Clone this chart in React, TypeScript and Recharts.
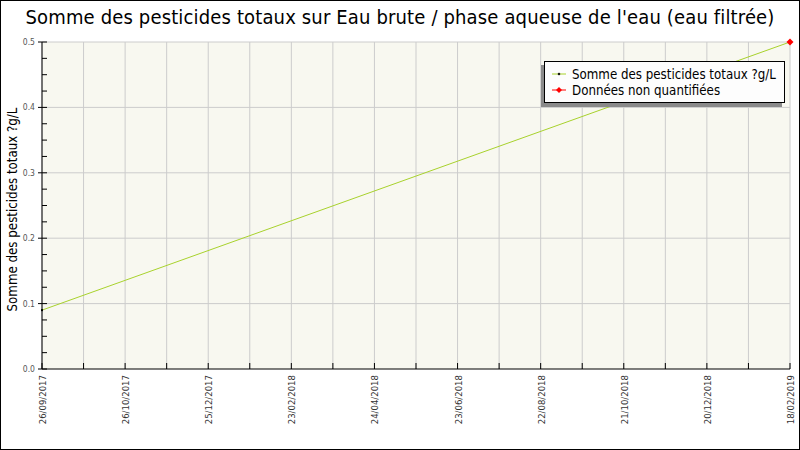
import React from "react";
import { LineChart, Line, XAxis, YAxis, CartesianGrid, Legend } from "recharts";

if (typeof document !== "undefined") document.body.style.margin = "0";

const TITLE = "Somme des pesticides totaux sur Eau brute / phase aqueuse de l'eau (eau filtrée)";
const SERIES_NAME = "Somme des pesticides totaux ?g/L";
const NQ_NAME = "Données non quantifiées";
const Y_LABEL = "Somme des pesticides totaux ?g/L";

// tick labels, one every second grid step
const dateLabels = [
  "26/09/2017",
  "26/10/2017",
  "25/12/2017",
  "23/02/2018",
  "24/04/2018",
  "23/06/2018",
  "22/08/2018",
  "21/10/2018",
  "20/12/2018",
  "18/02/2019",
];
const sampleDates = ["26/09/2017", "18/02/2019"];
const sampleValues = [0.09, 0.5];
const nonQuantified = [null, 0.5];

const xTicks = [0, 1, 2, 3, 4, 5, 6, 7, 8, 9, 10, 11, 12, 13, 14, 15, 16, 17, 18];
const yTicks = [
  0, 0.025, 0.05, 0.075, 0.1, 0.125, 0.15, 0.175, 0.2, 0.225, 0.25,
  0.275, 0.3, 0.325, 0.35, 0.375, 0.4, 0.425, 0.45, 0.475, 0.5,
];
const yMajor = [0.1, 0.2, 0.3, 0.4, 0.5];

const data = sampleDates.map((d, i) => ({
  x: dateLabels.indexOf(d) * 2,
  value: sampleValues[i],
  nq: nonQuantified[i],
}));

const FONT = "'DejaVu Sans Condensed', 'DejaVu Sans', sans-serif";
const GREEN = "#a8d22c";

const XTick = (props: any) => {
  const { x, y, payload } = props;
  const i = payload.value as number;
  const label = i % 2 === 0 ? dateLabels[i / 2] : null;
  return (
    <g>
      <line x1={x} x2={x} y1={y} y2={y - 6} stroke="#000" />
      {label && (
        <text
          transform={`translate(${x + 4},${y + 6}) rotate(-90)`}
          textAnchor="end"
          fontSize={9.5}
          fontFamily={FONT}
          fill="#333"
        >
          {label}
        </text>
      )}
    </g>
  );
};

const YTick = (props: any) => {
  const { x, y, payload } = props;
  const v = payload.value as number;
  const major = Math.abs(v * 10 - Math.round(v * 10)) < 1e-6;
  return (
    <g>
      <line x1={major ? x - 4 : x} x2={x + 5} y1={y} y2={y} stroke="#000" />
      {major && (
        <text x={x - 7} y={y} dy={3} textAnchor="end" fontSize={8.5} fontFamily={FONT} fill="#555">
          {v.toFixed(1)}
        </text>
      )}
    </g>
  );
};

const YLabel = (props: any) => {
  const { viewBox } = props;
  const cy = viewBox.y + viewBox.height / 2 + 4;
  return (
    <text
      transform={`translate(17,${cy}) rotate(-90)`}
      textAnchor="middle"
      fontSize={13.2}
      fontFamily={FONT}
      fill="#000"
    >
      {Y_LABEL}
    </text>
  );
};

const RedMark = (props: any) => {
  const { cx, cy, value } = props;
  if (value == null || cx == null) return <g />;
  return <path d={`M${cx - 3.5},${cy} L${cx},${cy - 3.5} L${cx + 3.5},${cy} L${cx},${cy + 3.5} Z`} fill="#f00" />;
};

const BlackMark = (props: any) => {
  const { cx, cy } = props;
  if (cx == null) return <g />;
  return <rect x={cx - 1} y={cy - 1} width={2} height={2} fill="#000" />;
};

const LegendBox = () => (
  <div
    style={{
      width: 241,
      height: 42,
      boxSizing: "border-box",
      border: "1px solid #000",
      background: "#fdfdfd",
      boxShadow: "-3px 4px 0 #8a8a8a",
      fontFamily: FONT,
      fontSize: 13.2,
      color: "#000",
      padding: "4px 0 0 6px",
    }}
  >
    {[
      { name: SERIES_NAME, line: GREEN, mark: "#000", size: 1.5 },
      { name: NQ_NAME, line: "#f00", mark: "#f00", size: 3 },
    ].map((e) => (
      <div key={e.name} style={{ display: "flex", alignItems: "center", height: 16 }}>
        <svg width={16} height={10} style={{ marginRight: 5 }}>
          <line x1={1} x2={15} y1={5} y2={5} stroke={e.line} />
          <path
            d={`M${8 - e.size},5 L8,${5 - e.size} L${8 + e.size},5 L8,${5 + e.size} Z`}
            fill={e.mark}
          />
        </svg>
        <span>{e.name}</span>
      </div>
    ))}
  </div>
);

export default function App() {
  return (
    <div style={{ position: "relative", width: 800, height: 450, background: "#fff", overflow: "hidden" }}>
      <div
        style={{
          position: "absolute",
          top: 5,
          left: 0,
          width: 800,
          textAlign: "center",
          fontFamily: FONT,
          fontSize: 20,
          letterSpacing: 0.15,
          color: "#000",
          lineHeight: "24px",
        }}
      >
        {TITLE}
      </div>
      <LineChart width={800} height={450} data={data} margin={{ top: 42, right: 10, left: 0, bottom: 0 }}>
        <CartesianGrid
          stroke="#cccccc"
          fill="#f8f8f0"
          fillOpacity={1}
          horizontalValues={yMajor}
        />
        <XAxis
          type="number"
          dataKey="x"
          domain={[0, 18]}
          ticks={xTicks}
          interval={0}
          height={81}
          tickSize={0}
          tickMargin={0}
          tickLine={false}
          axisLine={{ stroke: "#000" }}
          tick={<XTick />}
        />
        <YAxis
          type="number"
          domain={[0, 0.5]}
          ticks={yTicks}
          interval={0}
          width={42}
          tickSize={0}
          tickMargin={0}
          tickLine={false}
          axisLine={{ stroke: "#000" }}
          tick={<YTick />}
          label={<YLabel />}
        />
        <Legend
          layout="horizontal"
          align="center"
          verticalAlign="middle"
          wrapperStyle={{ left: 544, top: 61, width: 241, height: 42 }}
          content={<LegendBox />}
        />
        <Line
          dataKey="value"
          name={SERIES_NAME}
          stroke={GREEN}
          strokeWidth={1}
          dot={<BlackMark />}
          activeDot={false}
          isAnimationActive={false}
        />
        <Line
          dataKey="nq"
          name={NQ_NAME}
          stroke="none"
          dot={<RedMark />}
          activeDot={false}
          isAnimationActive={false}
        />
      </LineChart>
      <div
        style={{
          position: "absolute",
          inset: 0,
          border: "1px solid #000",
          boxSizing: "border-box",
          pointerEvents: "none",
        }}
      />
    </div>
  );
}
